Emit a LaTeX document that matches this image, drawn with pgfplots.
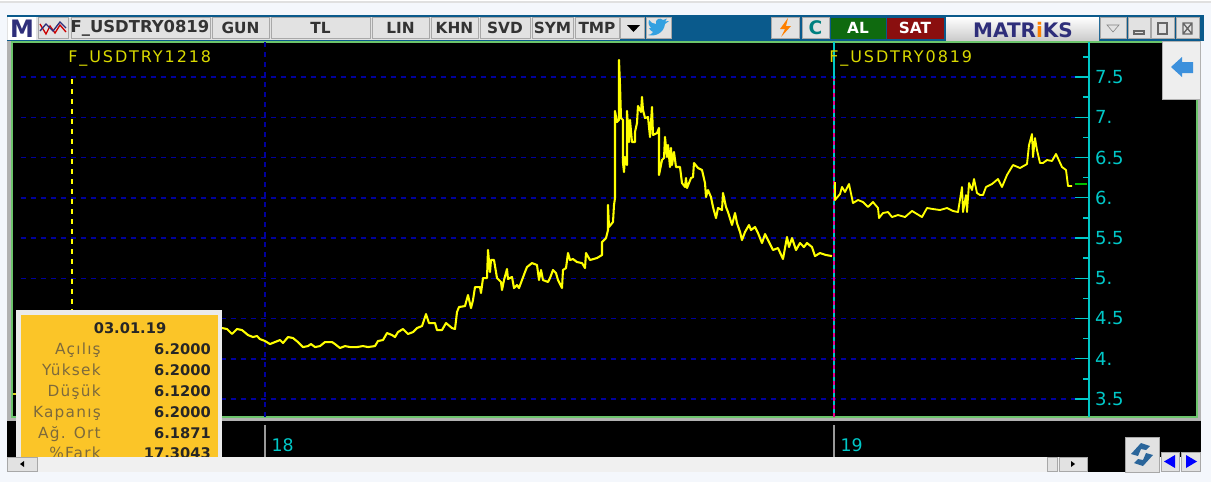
\documentclass[border=0pt]{standalone}
\usepackage{fontspec}
\usepackage{pgfplots}
\pgfplotsset{compat=1.18}
\setmainfont{DejaVu Sans}
\newfontfamily\spaced[LetterSpace=12]{DejaVu Sans}
\newfontfamily\spacedlabel[LetterSpace=8]{DejaVu Sans}

\definecolor{pagebg}{HTML}{F4F7FC}
\definecolor{titlebar}{HTML}{0A5A8C}
\definecolor{btnface}{HTML}{E2E2E2}
\definecolor{btnedge}{HTML}{A8A8A8}
\definecolor{framegreen}{HTML}{6CC46C}
\definecolor{tickcyan}{HTML}{00C8C8}
\definecolor{gridnavy}{HTML}{00009C}
\definecolor{serie}{HTML}{FFFF00}
\definecolor{popup}{HTML}{FBC528}
\definecolor{popuptext}{HTML}{7D6A3C}
\definecolor{navytext}{HTML}{2E2E7A}
\definecolor{arrowblue}{HTML}{3C90DC}
\definecolor{okgreen}{HTML}{0F6A0F}
\definecolor{sellred}{HTML}{8A0F0F}

% 1 px of the reference = 0.75pt
\newcommand\btn[3]{%
  \fill[btnface,draw=btnedge,line width=.75pt] (#1,17) rectangle (#2,38);
  \node[text=black!80,font=\fontsize{11.5}{12}\bfseries\selectfont,inner sep=0pt]
    at ({(#1+#2)/2},28) {#3};}
\newcommand\popuprow[3]{%
  \node[anchor=base east,text=popuptext,font=\spacedlabel\fontsize{11.5}{12}\selectfont,inner sep=0pt] at (101,#1+5) {#2};
  \node[anchor=base east,text=black!85,font=\fontsize{11}{12}\bfseries\selectfont,inner sep=0pt] at (211,#1+5) {#3};}

\pgfplotstableread{
x y
222 4.382
227 4.370
232 4.308
237 4.370
242 4.357
248 4.295
253 4.270
257 4.283
260 4.245
265 4.221
270 4.183
275 4.208
280 4.233
283 4.196
288 4.270
293 4.258
298 4.208
303 4.146
308 4.158
311 4.183
315 4.146
320 4.158
325 4.208
332 4.208
335 4.183
340 4.134
345 4.158
350 4.146
357 4.146
363 4.158
368 4.146
375 4.158
378 4.221
383 4.233
387 4.320
392 4.295
395 4.270
398 4.332
403 4.370
408 4.308
413 4.332
417 4.382
422 4.407
426 4.556
429 4.444
435 4.444
437 4.357
442 4.357
446 4.444
452 4.382
455 4.370
457 4.581
459 4.643
465 4.655
468 4.792
471 4.630
473 4.730
475 4.891
480 4.891
481 4.817
483 5.003
487 5.003
488 5.351
490 5.078
491 5.227
494 5.227
497 5.003
501 4.954
502 4.854
504 4.978
507 5.115
508 4.991
512 5.016
514 4.879
517 4.916
519 4.879
525 5.078
527 5.140
532 5.189
537 5.165
539 4.978
541 5.103
543 4.978
548 4.954
550 5.003
553 5.103
556 5.065
558 4.978
562 4.879
563 5.103
566 5.127
568 5.314
570 5.227
573 5.239
577 5.202
582 5.189
585 5.127
586 5.314
590 5.227
597 5.252
602 5.289
602 5.450
606 5.500
608 5.599
608 5.910
609 5.637
613 5.699
614 5.910
615 5.997
615 7.078
617 6.941
619 6.966
619 7.711
620 7.401
621 6.991
623 6.966
623 6.432
624 6.320
625 6.506
627 6.407
627 7.078
629 6.693
630 6.966
632 6.693
635 6.693
635 6.817
637 6.929
638 7.140
641 7.065
642 7.252
643 7.090
645 6.991
648 7.003
650 6.755
652 7.127
653 6.780
657 6.804
659 6.867
659 6.283
662 6.469
664 6.494
665 6.755
667 6.506
668 6.655
670 6.382
671 6.618
672 6.407
674 6.568
676 6.382
680 6.382
682 6.183
685 6.134
686 6.245
687 6.121
691 6.245
693 6.258
694 6.432
698 6.370
702 6.345
705 6.183
706 6.009
708 6.096
711 6.009
713 5.885
716 5.748
718 5.873
722 5.848
723 6.059
726 5.885
728 5.823
732 5.662
735 5.811
737 5.686
740 5.575
742 5.475
745 5.575
749 5.662
751 5.599
755 5.637
758 5.562
762 5.438
765 5.550
768 5.475
773 5.351
778 5.376
783 5.239
787 5.513
789 5.388
792 5.500
796 5.351
800 5.438
804 5.388
807 5.438
812 5.388
815 5.276
820 5.314
826 5.289
832 5.276
}\seriesdec

\pgfplotstableread{
x y
835 6.196
835 5.972
840 6.047
842 6.134
845 6.072
849 6.171
853 5.935
858 5.972
863 5.947
868 5.885
873 5.947
878 5.873
879 5.748
883 5.811
888 5.823
892 5.761
898 5.786
905 5.761
912 5.836
922 5.761
927 5.873
933 5.860
940 5.848
947 5.873
953 5.836
958 5.823
962 6.134
963 5.823
966 6.034
967 5.823
969 6.183
972 6.096
974 6.233
977 6.059
980 6.034
983 6.034
986 6.134
992 6.171
998 6.233
1002 6.134
1007 6.283
1013 6.407
1020 6.370
1027 6.419
1029 6.655
1032 6.792
1033 6.506
1035 6.742
1037 6.593
1040 6.432
1043 6.432
1047 6.469
1052 6.457
1056 6.544
1062 6.382
1066 6.345
1068 6.146
1072 6.146
}\seriesaug

\begin{document}
\begin{tikzpicture}
  % window behind the chart
  \begin{scope}[x=.75pt,y=-.75pt]
    \path[use as bounding box] (0,0) rectangle (1211,482);
    \fill[pagebg] (0,0) rectangle (1211,482);
    \fill[white] (0,0) rectangle (1211,1);
    \fill[black!12] (0,1) rectangle (1211,2.5);
    \fill[titlebar] (7,15) rectangle (1204,41);
    \fill[btnface] (7,17) rectangle (620,40);
    \fill[white] (8,17) rectangle (36,40);
    \node[text=navytext,font=\fontsize{18}{19}\bfseries\selectfont,inner sep=0pt] at (22,29) {M};
    \fill[btnface,draw=btnedge] (38,17) rectangle (68,38);
    \draw[red!80!black,line width=1pt] (40,24) -- (46,34) -- (50,26) -- (55,33) -- (60,25) -- (66,32);
    \draw[navytext,line width=1pt] (40,31) -- (46,24) -- (53,31) -- (60,22) -- (66,28);
    \fill[btnface,draw=btnedge,line width=.75pt] (71,17) rectangle (210,38);
    \node[text=black!80,font=\fontsize{12.3}{13}\bfseries\selectfont,inner sep=0pt] at (140,28) {F\_USDTRY0819};
    \btn{212}{269}{GUN}
    \btn{271}{370}{TL}
    \btn{372}{429}{LIN}
    \btn{431}{478}{KHN}
    \btn{480}{530}{SVD}
    \btn{532}{573}{SYM}
    \btn{575}{619}{TMP}
    \fill[btnface,draw=btnedge] (620,17) rectangle (644,38);
    \fill[black] (627,25) -- (640,25) -- (633.5,32) -- cycle;
    \fill[btnface,draw=btnedge] (646,17) rectangle (671,38);
    % twitter bird
    \fill[arrowblue!85!cyan] (648,35) .. controls (655,37) and (664,33) .. (665,24) -- (669,21) -- (665,21.5) -- (667,18.5)
      -- (663,20) .. controls (660,17) and (655,19) .. (656,24) .. controls (653,24) and (650,22) .. (649,20)
      .. controls (648,24) and (649,26) .. (651,28) -- (649,28) .. controls (650,30) and (651,31) .. (653,32)
      .. controls (652,34) and (650,35) .. (648,35) -- cycle;
    \fill[btnface,draw=btnedge] (771,17) rectangle (799,38);
    \fill[orange] (788,18) -- (780,29) -- (785,29) -- (781,37) -- (791,26) -- (786,26) -- cycle;
    \fill[btnface,draw=btnedge] (802,17) rectangle (829,38);
    \node[text=teal,font=\fontsize{14}{16}\bfseries\selectfont,inner sep=0pt] at (815.5,28) {C};
    \fill[okgreen] (831,18) rectangle (886,39);
    \node[text=white,font=\fontsize{11.5}{12}\bfseries\selectfont,inner sep=0pt] at (858,28) {AL};
    \fill[sellred] (887,18) rectangle (944,39);
    \node[text=white,font=\fontsize{11.5}{12}\bfseries\selectfont,inner sep=0pt] at (915,28) {SAT};
    \shade[top color=white,bottom color=black!20] (946,17) rectangle (1099,40);
    \node[text=navytext,font=\fontsize{15}{16}\bfseries\selectfont,inner sep=0pt] at (1023,30) {MATR\textcolor{orange}{i}KS};
    \fill[btnface,draw=btnedge] (1100,17) rectangle (1126,38);
    \draw[black!50] (1107,25) -- (1119,25) -- (1113,32) -- cycle;
    \fill[btnface,draw=btnedge] (1128,17) rectangle (1150,38);
    \draw[black!60,line width=1pt] (1134,31) rectangle (1144,34);
    \fill[btnface,draw=btnedge] (1151,17) rectangle (1174,38);
    \draw[black!60,line width=1pt] (1158,23) rectangle (1167,34);
    \fill[btnface,draw=btnedge] (1176,17) rectangle (1199,38);
    \draw[black!60,line width=1pt] (1183,23) rectangle (1192,34) (1183,23) -- (1192,34) (1192,23) -- (1183,34);
    % plot panel and time strip
    \fill[black!30] (7,41) rectangle (1201,421);
    \fill[black,draw=framegreen,line width=1.5pt] (12,42) rectangle (1197,417);
    \fill[black] (7,421) rectangle (1201,457);
    \fill[black] (1087,457) rectangle (1125,472);
    \draw[black!40,line width=1.2pt] (265,425) -- (265,457) (834,425) -- (834,457);
    \draw[yellow!85!black,line width=1.2pt] (12.5,394) -- (17,394);
  \end{scope}

  \begin{axis}[
    at={(15.75pt,-312.75pt)},
    anchor=south west,
    scale only axis,
    width=801pt,
    height=281.25pt,
    xmin=21,
    xmax=1089,
    ymin=3.277,
    ymax=7.935,
    clip=false,
    axis y line=right,
    axis x line*=bottom,
    axis line style={-},
    x axis line style={draw=none},
    y axis line style={draw=tickcyan,line width=1pt},
    tick align=inside,
    xtick={265,834},
    xticklabels={18,19},
    xtick style={draw=none},
    xticklabel style={anchor=west,xshift=1.5pt,yshift=-21.5pt,text=tickcyan,
      font=\fontsize{13}{14}\selectfont},
    ytick={3.5,4,4.5,5,5.5,6,6.5,7,7.5},
    yticklabels={3.5,4.,4.5,5.,5.5,6.,6.5,7.,7.5},
    minor ytick={3.75,4.25,4.75,5.25,5.75,6.25,6.75,7.25,7.75},
    major tick length=10.5pt,
    minor tick length=4.5pt,
    ytick style={draw=tickcyan,line width=1pt},
    minor tick style={draw=tickcyan,line width=1pt},
    yticklabel style={anchor=west,xshift=1pt,text=tickcyan,
      font=\fontsize{13.5}{14}\selectfont},
  ]
    % grid stops short of the price scale
    \pgfplotsinvokeforeach{3.5,4,4.5,5,5.5,6,6.5,7,7.5}{
      \addplot[gridnavy,line width=1.1pt,dash pattern=on 3.75pt off 3.75pt,forget plot]
        coordinates {(21,#1) (1075,#1)};
    }
    \addplot[gridnavy,line width=1.1pt,dash pattern=on 3.75pt off 3.75pt,forget plot]
      coordinates {(265,3.277) (265,7.935)};

    % contract roll markers
    \addplot[serie,line width=1.2pt,dash pattern=on 3.75pt off 3.75pt,forget plot]
      coordinates {(72,7.47) (72,3.5)};
    \addplot[tickcyan,line width=1.1pt,forget plot]
      coordinates {(834,3.277) (834,7.935)};
    \addplot[magenta,line width=1.1pt,dash pattern=on 3pt off 3pt,forget plot]
      coordinates {(834,3.277) (834,7.47)};

    \addplot[serie,line width=1.55pt,line join=round] table {\seriesdec};
    \addplot[serie,line width=1.4pt,line join=round] table {\seriesaug};
    % last price marker
    \addplot[green!75!black,line width=1pt] coordinates {(1075,6.171) (1087,6.171)};
  \end{axis}

  \begin{scope}[x=.75pt,y=-.75pt]
    \node[anchor=west,text=serie!85!black,font=\spaced\fontsize{12}{13}\selectfont,inner sep=0pt] at (68,58) {F\_USDTRY1218};
    \node[anchor=west,text=serie!85!black,font=\spaced\fontsize{12}{13}\selectfont,inner sep=0pt] at (829,58) {F\_USDTRY0819};
    % OHLC popup, its last row runs under the scrollbar
    \fill[black!8] (16,310) rectangle (222,457);
    \fill[popup] (21,315) rectangle (218,457);
    \node[text=black!85,font=\fontsize{11}{12}\bfseries\selectfont,inner sep=0pt] at (130,328) {03.01.19};
    \popuprow{349}{Açılış}{6.2000}
    \popuprow{370}{Yüksek}{6.2000}
    \popuprow{391}{Düşük}{6.1200}
    \popuprow{412}{Kapanış}{6.2000}
    \popuprow{433}{Ağ. Ort}{6.1871}
    \popuprow{453}{\%Fark}{17.3043}
    % scrollbar
    \fill[black!6] (7,457) rectangle (1087,472);
    \fill[pagebg] (0,472) rectangle (1211,482);
    \fill[btnface,draw=btnedge] (7,457) rectangle (37,471);
    \fill[black] (20,464) -- (24,461) -- (24,467) -- cycle;
    \fill[btnface,draw=btnedge] (1047,457) rectangle (1057,471);
    \fill[btnface,draw=btnedge] (1059,457) rectangle (1087,471);
    \fill[black] (1075,464) -- (1071,461) -- (1071,467) -- cycle;
    % refresh and paging buttons
    \fill[btnface,draw=btnedge] (1125,437) rectangle (1159,472);
    \fill[arrowblue!70!black] (1131,454) -- (1141,443) -- (1150,446) -- (1146,450) -- (1141,449) -- (1138,456) -- cycle;
    \fill[arrowblue!70!black] (1153,455) -- (1143,466) -- (1134,463) -- (1138,459) -- (1143,460) -- (1146,453) -- cycle;
    \fill[btnface,draw=btnedge] (1161,452) rectangle (1179,471);
    \fill[blue] (1164,461.5) -- (1175,455) -- (1175,468) -- cycle;
    \fill[btnface,draw=btnedge] (1181,452) rectangle (1200,471);
    \fill[blue] (1197,461.5) -- (1186,455) -- (1186,468) -- cycle;
    % side panel arrow
    \fill[btnface!60!white,draw=black!30] (1162,41) rectangle (1200,99);
    \fill[arrowblue] (1171,67) -- (1182,57) -- (1182,62) -- (1193,62) -- (1193,73) -- (1182,73) -- (1182,77) -- cycle;
  \end{scope}
\end{tikzpicture}
\end{document}
